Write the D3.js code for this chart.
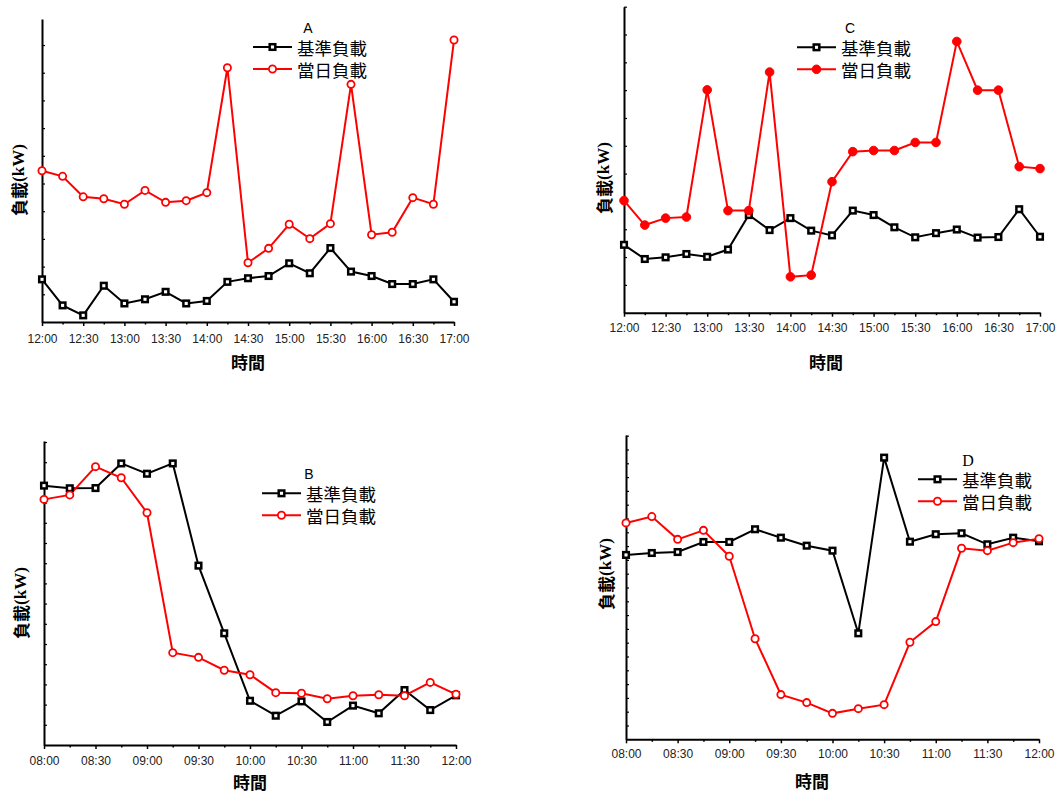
<!DOCTYPE html>
<html>
<head>
<meta charset="utf-8">
<script src="https://cdn.jsdelivr.net/npm/d3@7"></script>
<style>
  body { margin: 0; background: #fff; }
  svg { display: block; }
</style>
</head>
<body>
<svg id="chart" width="1057" height="793"></svg>
<script>
// time labels (every 15 min)
var pmTimes = ["12:00","12:15","12:30","12:45","13:00","13:15","13:30","13:45","14:00","14:15","14:30",
               "14:45","15:00","15:15","15:30","15:45","16:00","16:15","16:30","16:45","17:00"];
var amTimes = ["08:00","08:15","08:30","08:45","09:00","09:15","09:30","09:45","10:00","10:15","10:30",
               "10:45","11:00","11:15","11:30","11:45","12:00"];

var seriesNames = ["基準負載", "當日負載"];

// panel A
var baseA = [1.54,0.60,0.24,1.31,0.67,0.82,1.09,0.67,0.76,1.45,1.58,1.66,2.12,1.76,2.67,1.82,1.66,1.37,1.37,1.54,0.73];
var dayA  = [5.46,5.26,4.52,4.45,4.25,4.75,4.32,4.38,4.67,9.18,2.14,2.66,3.53,3.01,3.55,8.58,3.15,3.24,4.49,4.25,10.18];
// panel C
var baseC = [2.44,1.93,1.99,2.11,2.01,2.27,3.51,2.97,3.40,2.95,2.78,3.67,3.51,3.07,2.71,2.86,2.99,2.70,2.72,3.72,2.73];
var dayC  = [4.03,3.15,3.40,3.44,8.01,3.67,3.67,8.65,1.29,1.35,4.71,5.79,5.83,5.83,6.12,6.12,9.75,8.00,8.00,5.25,5.18];
// panel B
var baseB = [12.84,12.71,12.72,13.94,13.43,13.94,8.88,5.53,2.19,1.45,2.16,1.14,1.95,1.57,2.72,1.73,2.46];
var dayB  = [12.16,12.38,13.78,13.23,11.50,4.57,4.34,3.70,3.48,2.59,2.56,2.29,2.44,2.49,2.44,3.10,2.51];
// panel D
var baseD = [13.36,13.50,13.57,14.30,14.30,15.22,14.61,14.03,13.67,7.68,20.41,14.32,14.86,14.93,14.13,14.61,14.35];
var dayD  = [15.68,16.14,14.49,15.14,13.26,7.29,3.24,2.66,1.88,2.22,2.51,7.03,8.53,13.84,13.67,14.25,14.54];

var svg = d3.select("#chart");
var cjk = "'Noto Sans CJK TC', 'Noto Sans CJK SC', sans-serif";
var red = "#ff0000";

function drawPanel(p) {
  var n = p.times.length;
  var x = d3.scaleLinear().domain([0, n - 1]).range([p.left, p.right]);
  var y = d3.scaleLinear().domain([0, p.ymax]).range([p.bottom, p.top]);
  var g = svg.append("g");

  // x axis
  var xAxis = g.append("g")
    .attr("transform", "translate(0," + p.bottom + ")")
    .call(d3.axisBottom(x)
      .tickValues(d3.range(n))
      .tickSizeInner(4).tickSizeOuter(0)
      .tickFormat(function(i) { return i % 2 === 0 ? p.times[i] : ""; }));
  xAxis.selectAll(".tick line").attr("y2", function(i) { return i % 2 === 0 ? 4 : 2.5; })
    .attr("stroke-width", 1.5);
  xAxis.select(".domain").attr("stroke-width", 2);
  xAxis.selectAll("text")
    .attr("y", p.tickLabelDy)
    .attr("fill", "#222")
    .style("font-family", "'Liberation Sans', Arial, sans-serif")
    .style("font-size", "12px");

  // y axis (no labels, inward ticks)
  var yAxis = g.append("g")
    .attr("transform", "translate(" + p.left + ",0)")
    .call(d3.axisLeft(y)
      .tickValues(d3.range(1, Math.floor(p.ymax) + 1))
      .tickSizeInner(-3).tickSizeOuter(0)
      .tickFormat(""));
  yAxis.select(".domain").attr("stroke-width", 2);
  yAxis.selectAll(".tick line").attr("stroke-width", 1.2);

  // lines
  var line = d3.line().x(function(d, i) { return x(i); }).y(function(d) { return y(d); });
  g.append("path").datum(p.base)
    .attr("fill", "none").attr("stroke", "#000").attr("stroke-width", 2)
    .attr("d", line);
  g.append("path").datum(p.day)
    .attr("fill", "none").attr("stroke", red).attr("stroke-width", 2)
    .attr("d", line);

  // markers
  g.selectAll(".sq").data(p.base).enter().append("rect")
    .attr("x", function(d, i) { return x(i) - 2.8; })
    .attr("y", function(d) { return y(d) - 2.8; })
    .attr("width", 5.6).attr("height", 5.6)
    .attr("fill", "#fff").attr("stroke", "#000").attr("stroke-width", 2.5);
  g.selectAll(".ci").data(p.day).enter().append("circle")
    .attr("cx", function(d, i) { return x(i); })
    .attr("cy", function(d) { return y(d); })
    .attr("r", p.filledDots ? 4.3 : 3.6)
    .attr("fill", p.filledDots ? red : "#fff")
    .attr("stroke", red).attr("stroke-width", p.filledDots ? 1 : 1.8);

  // axis titles
  g.append("text")
    .attr("x", p.xTitle[0]).attr("y", p.xTitle[1])
    .attr("text-anchor", "middle").attr("dominant-baseline", "central")
    .style("font-family", cjk).style("font-weight", "bold").style("font-size", "17px")
    .text("時間");
  var yt = g.append("text")
    .attr("transform", "translate(" + p.yTitle[0] + "," + p.yTitle[1] + ") rotate(-90)")
    .attr("text-anchor", "middle").attr("dominant-baseline", "central")
    .style("font-weight", "bold").style("font-size", "17px");
  yt.append("tspan").style("font-family", cjk).text("負載");
  yt.append("tspan").style("font-family", "'Liberation Serif', 'Times New Roman', serif").text("(kW)");

  // legend
  var lg = g.append("g").attr("transform", "translate(" + p.legend[0] + "," + p.legend[1] + ")");
  lg.append("text")
    .attr("x", p.letterX).attr("y", -19)
    .attr("text-anchor", "middle").attr("dominant-baseline", "central")
    .style("font-family", p.letterSerif ? "'Liberation Serif', serif" : "'Liberation Sans', Arial, sans-serif")
    .style("font-size", p.letterSerif ? "16px" : "14px")
    .text(p.letter);
  seriesNames.forEach(function(name, k) {
    var ry = k * 22;
    var col = k === 0 ? "#000" : red;
    lg.append("line").attr("x1", 0).attr("x2", 39).attr("y1", ry).attr("y2", ry)
      .attr("stroke", col).attr("stroke-width", 2);
    if (k === 0) {
      lg.append("rect").attr("x", 16.7).attr("y", ry - 2.8).attr("width", 5.6).attr("height", 5.6)
        .attr("fill", "#fff").attr("stroke", "#000").attr("stroke-width", 2.5);
    } else {
      lg.append("circle").attr("cx", 19.5).attr("cy", ry)
        .attr("r", p.filledDots ? 4.3 : 3.6)
        .attr("fill", p.filledDots ? red : "#fff")
        .attr("stroke", red).attr("stroke-width", p.filledDots ? 1 : 1.8);
    }
    lg.append("text").attr("x", 44).attr("y", ry)
      .attr("dominant-baseline", "central")
      .style("font-family", cjk).style("font-size", "17.5px")
      .text(name);
  });
}

drawPanel({ times: pmTimes, base: baseA, day: dayA, left: 42, right: 454, bottom: 322, top: 19, ymax: 10.94,
  tickLabelDy: 12, xTitle: [248, 361], yTitle: [18, 180], legend: [253, 47], letter: "A", letterX: 55,
  letterSerif: false, filledDots: false });
drawPanel({ times: pmTimes, base: baseC, day: dayC, left: 624, right: 1040, bottom: 312.7, top: 6.7, ymax: 11.0,
  tickLabelDy: 11, xTitle: [826, 361.5], yTitle: [603, 178], legend: [797, 47.3], letter: "C", letterX: 53,
  letterSerif: false, filledDots: true });
drawPanel({ times: amTimes, base: baseB, day: dayB, left: 44, right: 456, bottom: 745, top: 441, ymax: 15.05,
  tickLabelDy: 11, xTitle: [250, 781], yTitle: [20, 603], legend: [262, 493.3], letter: "B", letterX: 47,
  letterSerif: false, filledDots: false });
drawPanel({ times: amTimes, base: baseD, day: dayD, left: 626, right: 1039, bottom: 739.3, top: 435, ymax: 22.05,
  tickLabelDy: 10, xTitle: [812, 780.5], yTitle: [605, 574], legend: [918, 479.3], letter: "D", letterX: 50,
  letterSerif: true, filledDots: false });
</script>
</body>
</html>
